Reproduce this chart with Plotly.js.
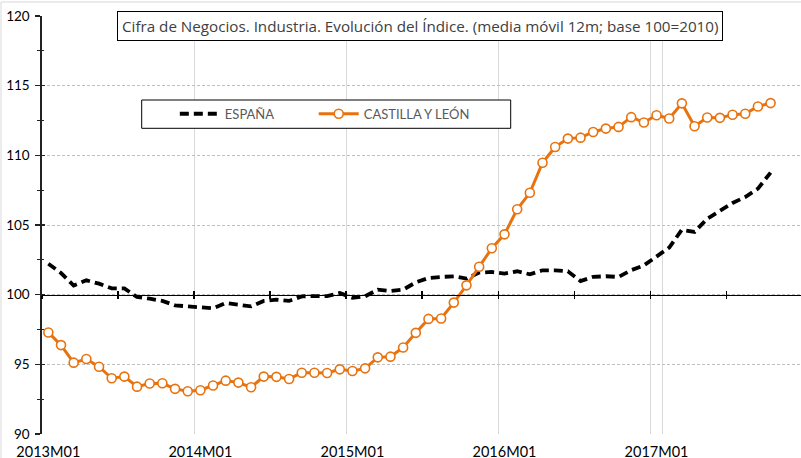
<!DOCTYPE html>
<html>
<head>
<meta charset="utf-8">
<script src="https://cdn.plot.ly/plotly-3.0.1.min.js"></script>
<style>html,body{margin:0;padding:0;background:#fff;}#chart{width:801px;height:458px;}</style>
</head>
<body>
<div id="chart"></div>
<script>
// All months on the category axis (2013M01 .. 2017M12)
const months = [];
for (let y = 2013; y <= 2017; y++) {
  for (let m = 1; m <= 12; m++) months.push(y + 'M' + (m < 10 ? '0' + m : m));
}
const yearLabels = ['2013M01', '2014M01', '2015M01', '2016M01', '2017M01'];

const espana = [
  102.22, 101.55, 100.65, 101.03, 100.79, 100.45, 100.45, 99.83, 99.71, 99.55, 99.23, 99.16,
  99.05, 99.02, 99.40, 99.28, 99.16, 99.55, 99.64, 99.55, 99.88, 99.90, 99.90, 100.12,
  99.78, 99.88, 100.36, 100.26, 100.36, 100.88, 101.20, 101.27, 101.32, 101.15, 101.58, 101.63,
  101.51, 101.68, 101.46, 101.75, 101.75, 101.68, 100.98, 101.28, 101.32, 101.27, 101.76, 102.10,
  102.78, 103.38, 104.66, 104.50, 105.45, 106.05, 106.58, 107.01, 107.61, 108.76
];
const castilla = [
  97.29, 96.38, 95.12, 95.38, 94.83, 94.00, 94.12, 93.40, 93.62, 93.64, 93.24, 93.07,
  93.14, 93.48, 93.83, 93.69, 93.36, 94.12, 94.10, 93.95, 94.40, 94.40, 94.38, 94.64,
  94.52, 94.71, 95.50, 95.55, 96.21, 97.26, 98.26, 98.29, 99.43, 100.67, 102.00, 103.33,
  104.33, 106.13, 107.31, 109.47, 110.60, 111.20, 111.27, 111.68, 111.92, 112.04, 112.74, 112.36,
  112.88, 112.64, 113.73, 112.09, 112.72, 112.69, 112.91, 112.98, 113.51, 113.75
];

const xr = [-0.5, 59.4];
const orange = '#E8730E';

const traces = [
  {
    name: 'ESPAÑA', x: months.slice(0, espana.length), y: espana,
    type: 'scatter', mode: 'lines', legend: 'legend',
    line: {color: '#000000', width: 3.8, dash: '9px,5px'}
  },
  {
    name: 'CASTILLA Y LEÓN', x: months.slice(0, castilla.length), y: castilla,
    type: 'scatter', mode: 'lines+markers', legend: 'legend2',
    line: {color: orange, width: 3},
    marker: {symbol: 'circle', size: 9, color: '#ffffff', line: {color: orange, width: 1.6}}
  }
];

const catAxisBase = {
  type: 'category', categoryorder: 'array', categoryarray: months,
  range: xr, fixedrange: true
};

const legendBase = {
  orientation: 'h', xanchor: 'left', yanchor: 'middle', y: 0.766,
  bgcolor: 'rgba(0,0,0,0)', borderwidth: 0,
  font: {size: 13, color: '#595959', family: 'Lato, sans-serif'},
  itemwidth: 40
};

const layout = {
  width: 801, height: 458,
  margin: {l: 42, r: 0, t: 16, b: 24, pad: 0},
  paper_bgcolor: '#ffffff', plot_bgcolor: '#ffffff',
  showlegend: true,
  font: {family: 'Lato, "Open Sans", sans-serif', color: '#000'},
  xaxis: Object.assign({}, catAxisBase, {
    tickmode: 'array', tickvals: yearLabels, ticktext: yearLabels,
    tickson: 'boundaries', tickangle: 0,
    showgrid: true, gridcolor: '#D9D9D9', gridwidth: 1,
    showline: false, zeroline: false, ticks: '',
    tickfont: {size: 14.5, color: '#000', family: 'Lato, sans-serif'},
    ticklabelstandoff: 7,
    layer: 'below traces'
  }),
  xaxis2: Object.assign({}, catAxisBase, {
    overlaying: 'x', anchor: 'free', position: 1/3,
    tickmode: 'linear', tick0: 0, dtick: 6, tickson: 'boundaries',
    showgrid: false, zeroline: false, showticklabels: false,
    showline: true, linecolor: '#000', linewidth: 1.3,
    ticks: 'outside', ticklen: 3, tickcolor: '#000', tickwidth: 1.3
  }),
  xaxis3: Object.assign({}, catAxisBase, {
    overlaying: 'x', anchor: 'free', position: 1/3,
    tickmode: 'linear', tick0: 0, dtick: 6, tickson: 'boundaries',
    showgrid: false, zeroline: false, showticklabels: false, showline: false,
    ticks: 'inside', ticklen: 4, tickcolor: '#000', tickwidth: 1.3
  }),
  yaxis: {
    range: [90, 120], tickmode: 'linear', tick0: 90, dtick: 5,
    showgrid: true, gridcolor: '#BFBFBF', griddash: '3px,2px', gridwidth: 1,
    zeroline: false, showline: true, linecolor: '#222', linewidth: 1.6,
    ticks: 'outside', ticklen: 5, tickcolor: '#222', tickwidth: 1.5,
    minor: {dtick: 2.5, ticks: 'outside', ticklen: 3, tickcolor: '#222', tickwidth: 1.2, showgrid: false},
    tickfont: {size: 13.5, color: '#000', family: 'Lato, sans-serif'},
    ticklabelstandoff: 3,
    fixedrange: true
  },
  yaxis2: {
    overlaying: 'y', range: [90, 120], tickmode: 'linear', tick0: 90, dtick: 5,
    showgrid: false, zeroline: false, showline: false, showticklabels: false,
    ticks: 'inside', ticklen: 3, tickcolor: '#222', tickwidth: 1.5,
    minor: {dtick: 2.5, ticks: 'inside', ticklen: 2, tickcolor: '#222', tickwidth: 1.2, showgrid: false},
    fixedrange: true
  },
  legend: Object.assign({}, legendBase, {x: 0.175}),
  legend2: Object.assign({}, legendBase, {x: 0.358}),
  annotations: [{
    xref: 'paper', yref: 'paper', x: 0.498, y: 0.976, xanchor: 'center', yanchor: 'middle',
    text: 'Cifra de Negocios. Industria. Evolución del Índice. (media móvil 12m; base 100=2010)',
    showarrow: false, bgcolor: '#ffffff', bordercolor: '#000', borderwidth: 1, borderpad: 4,
    font: {size: 15.2, color: '#404040', family: '"Open Sans", sans-serif'}
  }],
  shapes: [
    {type: 'line', xref: 'paper', yref: 'paper', x0: -0.054, x1: 1.01, y0: 1.0335, y1: 1.0335,
     line: {color: '#D9D9D9', width: 1}},
    {type: 'line', xref: 'paper', yref: 'paper', x0: -0.054, x1: -0.054, y0: -0.06, y1: 1.0335,
     line: {color: '#D9D9D9', width: 1}},
    // legend frame
    {type: 'rect', xref: 'paper', yref: 'paper', layer: 'above',
     x0: (141.7 - 42) / 759, x1: (510.7 - 42) / 759,
     y0: (434 - 128.3) / 418, y1: (434 - 100) / 418,
     fillcolor: '#ffffff', line: {color: '#000', width: 1}}
  ]
};

// Invisible traces that activate the overlay axes
traces.push({x: [months[0]], y: [100], xaxis: 'x2', yaxis: 'y', mode: 'markers',
             marker: {opacity: 0}, showlegend: false, hoverinfo: 'skip'});
traces.push({x: [months[0]], y: [100], xaxis: 'x3', yaxis: 'y2', mode: 'markers',
             marker: {opacity: 0}, showlegend: false, hoverinfo: 'skip'});

Plotly.newPlot('chart', traces, layout, {staticPlot: true, displayModeBar: false});
</script>
</body>
</html>
